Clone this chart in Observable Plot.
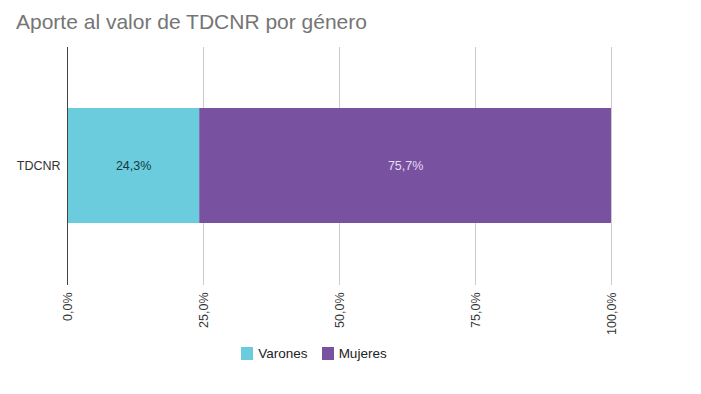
<!DOCTYPE html>
<html>
<head>
<meta charset="utf-8">
<script src="https://cdn.jsdelivr.net/npm/d3@7"></script>
<script src="https://cdn.jsdelivr.net/npm/@observablehq/plot@0.6"></script>
<style>
  html, body { margin: 0; padding: 0; background: #fff; }
  body { width: 701px; height: 394px; overflow: hidden; font-family: "Liberation Sans", Arial, sans-serif; }
  #title { position: absolute; left: 16px; top: 10px; font-size: 21px; color: #757575; white-space: nowrap; }
  #chart { position: absolute; left: 0; top: 45px; }
  #legend { position: absolute; top: 346px; left: 0; width: 628px; display: flex; justify-content: center; gap: 14px; font-size: 13.5px; color: #222; }
  .item { display: flex; align-items: center; gap: 5px; }
  .sw { width: 12px; height: 13px; display: inline-block; }
</style>
</head>
<body>
<div id="title">Aporte al valor de TDCNR por género</div>
<div id="chart"></div>
<div id="legend"></div>
<script>
const categories = ["TDCNR"];
const series = ["Varones", "Mujeres"];
const values = [24.3, 75.7];
const colors = ["#6ACCDD", "#7851A0"];
const labelColors = ["#123b3f", "#e6dcf0"];
const ticks = [0, 25, 50, 75, 100];

const data = series.map((s, i) => ({cat: categories[0], series: s, value: values[i], idx: i}));
const fmt = d => d.toFixed(1).replace(".", ",") + "%";

const plot = Plot.plot({
  width: 701,
  height: 300,
  marginTop: 2,
  marginBottom: 60,
  marginLeft: 67,
  marginRight: 90,
  style: {fontFamily: '"Liberation Sans", Arial, sans-serif', fontSize: "12.5px", color: "#333"},
  x: {domain: [0, 100], ticks: ticks, tickFormat: fmt, tickRotate: -90, tickSize: 0, tickPadding: 7, label: null},
  y: {domain: categories, padding: 0.345, label: null, tickSize: 0, tickPadding: 7},
  color: {domain: series, range: colors},
  marks: [
    Plot.gridX(ticks.filter(t => t !== 0), {stroke: "#cccccc", strokeOpacity: 1, strokeWidth: 1}),
    Plot.barX(data, Plot.stackX({x: "value", y: "cat", fill: "series", order: null})),
    Plot.ruleX([0], {stroke: "#444", strokeWidth: 1}),
    Plot.text(data, Plot.stackX({x: "value", y: "cat", z: "series", order: null, text: d => fmt(d.value), fill: d => labelColors[d.idx], fontSize: 12.5}))
  ]
});
document.getElementById("chart").appendChild(plot);

const legend = document.getElementById("legend");
series.forEach((s, i) => {
  const it = document.createElement("div");
  it.className = "item";
  const sw = document.createElement("span");
  sw.className = "sw";
  sw.style.background = colors[i];
  const t = document.createElement("span");
  t.textContent = s;
  it.appendChild(sw); it.appendChild(t);
  legend.appendChild(it);
});
</script>
</body>
</html>
